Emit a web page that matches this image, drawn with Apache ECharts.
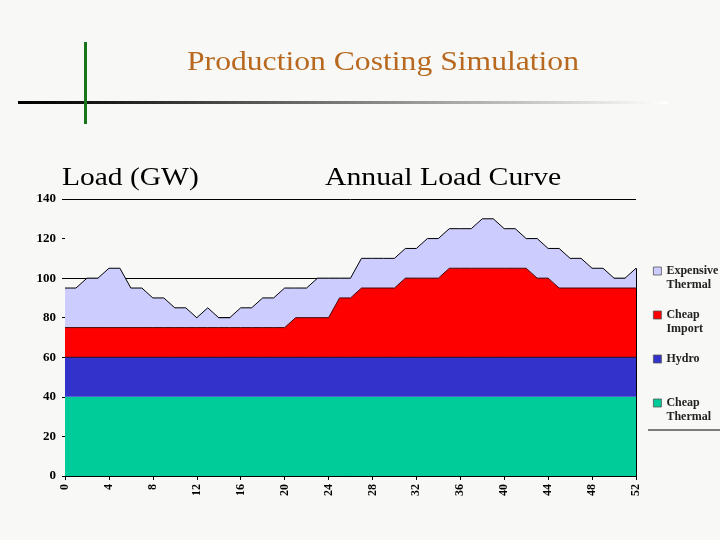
<!DOCTYPE html>
<html lang="en">
<head>
<meta charset="UTF-8">
<title>Production Costing Simulation</title>
<style>
    html, body { margin: 0; padding: 0; background: #f8f8f7; }
    #chart { width: 720px; height: 540px; }
</style>
</head>
<body>
<div id="chart"></div>
<script src="https://cdn.jsdelivr.net/npm/echarts@6/dist/echarts.min.js"></script>
<script>
    // weeks of the year
    var weeks = ['0', '1', '2', '3', '4', '5', '6', '7', '8', '9', '10', '11', '12', '13', '14', '15', '16', '17',
        '18', '19', '20', '21', '22', '23', '24', '25', '26', '27', '28', '29', '30', '31', '32', '33', '34', '35',
        '36', '37', '38', '39', '40', '41', '42', '43', '44', '45', '46', '47', '48', '49', '50', '51', '52'];

    // GW supplied by each source (stacked)
    var cheapThermal = [40, 40, 40, 40, 40, 40, 40, 40, 40, 40, 40, 40, 40, 40, 40, 40, 40, 40,
        40, 40, 40, 40, 40, 40, 40, 40, 40, 40, 40, 40, 40, 40, 40, 40, 40, 40,
        40, 40, 40, 40, 40, 40, 40, 40, 40, 40, 40, 40, 40, 40, 40, 40, 40];
    var hydro = [20, 20, 20, 20, 20, 20, 20, 20, 20, 20, 20, 20, 20, 20, 20, 20, 20, 20,
        20, 20, 20, 20, 20, 20, 20, 20, 20, 20, 20, 20, 20, 20, 20, 20, 20, 20,
        20, 20, 20, 20, 20, 20, 20, 20, 20, 20, 20, 20, 20, 20, 20, 20, 20];
    var cheapImport = [15, 15, 15, 15, 15, 15, 15, 15, 15, 15, 15, 15, 15, 15, 15, 15, 15, 15,
        15, 15, 15, 20, 20, 20, 20, 30, 30, 35, 35, 35, 35, 40, 40, 40, 40, 45,
        45, 45, 45, 45, 45, 45, 45, 40, 40, 35, 35, 35, 35, 35, 35, 35, 35];
    var expensiveThermal = [20, 20, 25, 25, 30, 30, 20, 20, 15, 15, 10, 10, 5, 10, 5, 5, 10, 10,
        15, 15, 20, 15, 15, 20, 20, 10, 10, 15, 15, 15, 15, 15, 15, 20, 20, 20,
        20, 20, 25, 25, 20, 20, 15, 20, 15, 20, 15, 15, 10, 10, 5, 5, 10];

    var yTicks = ['0', '20', '40', '60', '80', '100', '120', '140'];

    // legend labels, padded with blank lines so the square sits by the first line
    var legendText = {
        'Expensive Thermal': ' \nExpensive\nThermal',
        'Cheap Import': ' \nCheap\nImport',
        'Hydro': ' \nHydro\n ',
        'Cheap Thermal': ' \nCheap\nThermal'
    };

    var serif = "'Liberation Serif', 'Times New Roman', serif";
    var last = weeks.length - 1;
    var peakAtEnd = cheapThermal[last] + hydro[last] + cheapImport[last] + expensiveThermal[last];

    var chart = echarts.init(document.getElementById('chart'));

    var option = {
        backgroundColor: '#f8f8f7',
        animation: false,
        grid: { left: 65, right: 84, top: 199, bottom: 64 },
        xAxis: {
            type: 'category',
            data: weeks,
            boundaryGap: false,
            axisLine: { lineStyle: { color: '#000', width: 1 } },
            axisTick: { interval: 3, length: 4, lineStyle: { color: '#000' } },
            axisLabel: {
                interval: 3,
                rotate: 90,
                margin: 8,
                color: '#000',
                fontFamily: serif,
                fontWeight: 'bold',
                fontSize: 12
            },
            splitLine: { show: false }
        },
        yAxis: {
            type: 'value',
            min: 0,
            max: 140,
            interval: 20,
            axisLine: { show: false },
            axisTick: { show: true, length: 3, lineStyle: { color: '#000' } },
            axisLabel: {
                margin: 9,
                color: '#000',
                fontFamily: serif,
                fontWeight: 'bold',
                fontSize: 13,
                formatter: function (v) { return yTicks[v / 20]; }
            },
            splitLine: {
                show: true,
                lineStyle: {
                    width: 1,
                    color: ['#000', '#000', '#000', '#000', '#000', '#000', 'rgba(0,0,0,0)', '#000']
                }
            }
        },
        legend: {
            orient: 'vertical',
            left: 648,
            top: 245,
            itemWidth: 8,
            itemHeight: 8,
            itemGap: 2,
            icon: 'rect',
            itemStyle: { borderColor: '#555', borderWidth: 0.8 },
            textStyle: {
                color: '#222',
                fontFamily: serif,
                fontWeight: 'bold',
                fontSize: 12,
                lineHeight: 14
            },
            formatter: function (name) { return legendText[name]; },
            data: ['Expensive Thermal', 'Cheap Import', 'Hydro', 'Cheap Thermal']
        },
        series: [
            {
                name: 'Cheap Thermal',
                type: 'line',
                stack: 'load',
                data: cheapThermal,
                symbol: 'none',
                lineStyle: { width: 0, color: '#00cc99' },
                itemStyle: { color: '#00cc99' },
                areaStyle: { color: '#00cc99', opacity: 1 }
            },
            {
                name: 'Hydro',
                type: 'line',
                stack: 'load',
                data: hydro,
                symbol: 'none',
                lineStyle: { width: 1, color: '#1a1a40' },
                itemStyle: { color: '#3333cc' },
                areaStyle: { color: '#3333cc', opacity: 1 }
            },
            {
                name: 'Cheap Import',
                type: 'line',
                stack: 'load',
                data: cheapImport,
                symbol: 'none',
                lineStyle: { width: 1, color: '#4a0000' },
                itemStyle: { color: '#ff0000' },
                areaStyle: { color: '#ff0000', opacity: 1 }
            },
            {
                name: 'Expensive Thermal',
                type: 'line',
                stack: 'load',
                data: expensiveThermal,
                symbol: 'none',
                lineStyle: { width: 1, color: '#000' },
                itemStyle: { color: '#ccccff' },
                areaStyle: { color: '#ccccff', opacity: 1 },
                markLine: {
                    silent: true,
                    symbol: 'none',
                    label: { show: false },
                    lineStyle: { color: '#000', width: 1, type: 'solid' },
                    data: [[{ coord: [weeks[last], 0] }, { coord: [weeks[last], peakAtEnd] }]]
                }
            }
        ],
        graphic: [
            {
                type: 'rect',
                shape: { x: 18, y: 101, width: 650, height: 3 },
                style: {
                    fill: new echarts.graphic.LinearGradient(0, 0, 1, 0, [
                        { offset: 0, color: '#000' },
                        { offset: 0.1, color: '#111' },
                        { offset: 1, color: 'rgba(255,255,255,1)' }
                    ])
                }
            },
            {
                type: 'rect',
                shape: { x: 84, y: 42, width: 3, height: 82 },
                style: { fill: '#17761a' }
            },
            {
                type: 'text',
                x: 383, y: 63, scaleX: 1.13,
                style: {
                    text: 'Production Costing Simulation',
                    font: '28px ' + serif,
                    fill: '#b8691f',
                    textAlign: 'center',
                    textVerticalAlign: 'middle'
                }
            },
            {
                type: 'text',
                x: 62, y: 178, scaleX: 1.18,
                style: {
                    text: 'Load (GW)',
                    font: '25px ' + serif,
                    fill: '#000',
                    textAlign: 'left',
                    textVerticalAlign: 'middle'
                }
            },
            {
                type: 'text',
                x: 325, y: 178, scaleX: 1.19,
                style: {
                    text: 'Annual Load Curve',
                    font: '25px ' + serif,
                    fill: '#000',
                    textAlign: 'left',
                    textVerticalAlign: 'middle'
                }
            },
            {
                type: 'line',
                shape: { x1: 648, y1: 430, x2: 720, y2: 430 },
                style: { stroke: '#000', lineWidth: 1 }
            }
        ]
    };

    chart.setOption(option);
</script>
</body>
</html>
